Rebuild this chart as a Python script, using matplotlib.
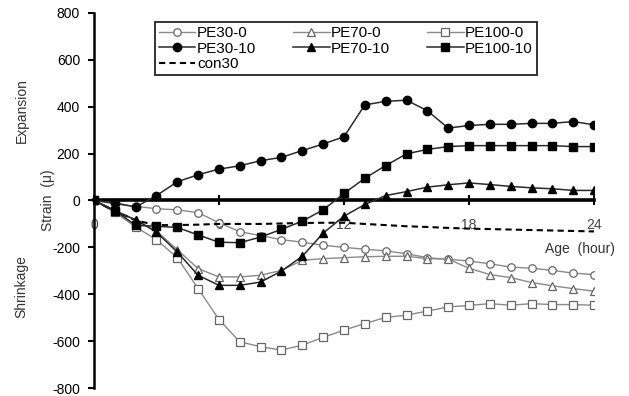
import matplotlib.pyplot as plt

plt.rcParams['font.family'] = ['Liberation Sans', 'DejaVu Sans']

# ---------- data (strain in micro, age in hours)
hours = list(range(25))

pe30_0 = [0, -15, -25, -35, -40, -52, -95, -133, -150, -167, -178, -191, -200,
          -208, -215, -227, -244, -251, -258, -270, -284, -289, -298, -310, -316]
pe70_0 = [0, -40, -85, -130, -210, -291, -326, -326, -319, -298, -255, -248, -244,
          -240, -238, -238, -248, -250, -289, -316, -329, -350, -364, -376, -387]
pe100_0 = [0, -50, -113, -167, -244, -376, -508, -603, -624, -638, -617, -584, -553,
           -525, -499, -489, -472, -454, -448, -440, -447, -440, -444, -444, -447]
pe30_10 = [0, -10, -28, 21, 80, 110, 134, 148, 170, 184, 213, 241, 272,
           408, 423, 428, 383, 309, 320, 325, 325, 329, 329, 337, 323]
pe70_10 = [0, -45, -82, -135, -220, -319, -362, -362, -348, -301, -238, -139, -67,
           -17, 21, 38, 57, 67, 75, 68, 60, 54, 50, 43, 43]
pe100_10 = [0, -43, -106, -110, -115, -147, -178, -180, -156, -123, -88, -40, 30,
            95, 149, 199, 218, 230, 234, 234, 234, 234, 234, 230, 230]
con30 = [0, -45, -85, -105, -105, -103, -100, -100, -100, -98, -96, -95, -95,
         -100, -105, -110, -113, -117, -120, -122, -124, -126, -128, -130, -132]

y_ticks = [-800, -600, -400, -200, 0, 200, 400, 600, 800]
x_ticks = [0, 6, 12, 18, 24]

# ---------- figure
fig = plt.figure(figsize=(6.29, 3.96), dpi=100)
ax = fig.add_axes([0.1494, 0.0202, 0.795, 0.947])

grey = '#8a8a8a'
dark = '#2a2a2a'

h1, = ax.plot(hours, pe30_0, color=grey, lw=1.0, marker='o', ms=5.4,
              mfc='white', mec='#666666', mew=0.9, label='PE30-0', zorder=3)
h4, = ax.plot(hours, pe70_0, color=grey, lw=1.0, marker='^', ms=5.4,
              mfc='white', mec='#666666', mew=0.9, label='PE70-0', zorder=3)
h6, = ax.plot(hours, pe100_0, color=grey, lw=1.0, marker='s', ms=5.2,
              mfc='white', mec='#666666', mew=0.9, label='PE100-0', zorder=3)
h2, = ax.plot(hours, pe30_10, color=dark, lw=1.1, marker='o', ms=6.0,
              mfc='black', mec='black', label='PE30-10', zorder=4)
h5, = ax.plot(hours, pe70_10, color=dark, lw=1.1, marker='^', ms=6.0,
              mfc='black', mec='black', label='PE70-10', zorder=4)
h7, = ax.plot(hours, pe100_10, color=dark, lw=1.1, marker='s', ms=5.6,
              mfc='black', mec='black', label='PE100-10', zorder=4)
h3, = ax.plot(hours, con30, color='black', lw=1.5, ls=(0, (3, 2)),
              label='con30', zorder=3)

ax.set_xlim(0, 24)
ax.set_ylim(-800, 800)

ax.spines['top'].set_visible(False)
ax.spines['right'].set_visible(False)
ax.spines['left'].set_linewidth(1.8)
ax.spines['bottom'].set_position(('data', 0))
ax.spines['bottom'].set_linewidth(2.6)
ax.spines['bottom'].set_zorder(2)

ax.set_yticks(y_ticks)
ax.set_xticks(x_ticks)
ax.tick_params(axis='y', direction='out', length=4, width=1.5, labelsize=10,
               pad=6, colors='black')
ax.tick_params(axis='x', direction='inout', length=7, width=1.5, labelsize=10,
               pad=9, labelcolor='#444444')
ax.set_yticklabels([str(v) for v in y_ticks])

ax.set_ylabel('Strain  (μ)', fontsize=10, color='#333333', labelpad=-2)
ax.text(-0.145, 0.74, 'Expansion', transform=ax.transAxes, rotation=90,
        fontsize=10, color='#333333', ha='center', va='center')
ax.text(-0.145, 0.27, 'Shrinkage', transform=ax.transAxes, rotation=90,
        fontsize=10, color='#333333', ha='center', va='center')
ax.text(25.0, -205, 'Age  (hour)', fontsize=10, color='#333333',
        ha='right', va='center', clip_on=False)

leg = ax.legend(handles=[h1, h2, h3, h4, h5, h6, h7], ncol=3,
                loc='upper left', bbox_to_anchor=(0.122, 0.975),
                fontsize=11, frameon=True, fancybox=False, handlelength=2.4,
                handletextpad=0.1, columnspacing=2.4, labelspacing=0.1,
                borderpad=0.25, borderaxespad=0)
leg.get_frame().set_edgecolor('black')
leg.get_frame().set_linewidth(1.4)

fig.savefig('out.png', dpi=100)
